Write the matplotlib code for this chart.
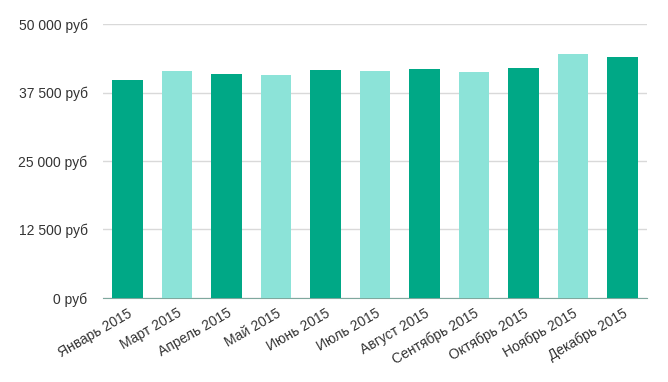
import matplotlib.pyplot as plt
from matplotlib.ticker import FuncFormatter

plt.rcParams['font.family'] = ['Liberation Sans', 'DejaVu Sans']

# месяцы и суммы
months = ["Январь 2015", "Март 2015", "Апрель 2015", "Май 2015", "Июнь 2015",
          "Июль 2015", "Август 2015", "Сентябрь 2015", "Октябрь 2015",
          "Ноябрь 2015", "Декабрь 2015"]
values = [39860, 41500, 40950, 40770, 41680, 41500, 41860, 41320, 42050, 44590, 44050]
yticks = [0, 12500, 25000, 37500, 50000]

dark = "#00a886"
light = "#8ce3d8"
colors = [dark if i % 2 == 0 else light for i in range(len(months))]

fig = plt.figure(figsize=(6.68, 3.82), dpi=100)
ax = fig.add_axes([0.154, 0.22, 0.815, 0.717])

ax.bar(range(len(months)), values, width=0.62, color=colors, zorder=3)

ax.set_xlim(-0.5, len(months) - 0.5)
ax.set_ylim(0, 50000)
ax.set_yticks(yticks)
ax.yaxis.set_major_formatter(FuncFormatter(lambda v, p: f"{int(v):,} руб".replace(",", " ")))
ax.grid(axis="y", color="#d9d9d9", linewidth=1, zorder=0)

ax.set_xticks(range(len(months)))
ax.set_xticklabels(months, rotation=30, ha="right", rotation_mode="anchor")

for s in ["top", "right", "left"]:
    ax.spines[s].set_visible(False)
ax.spines["bottom"].set_color("#7fa89e")
ax.tick_params(length=0, labelsize=10, colors="#333333")
ax.tick_params(axis="y", pad=11)
ax.tick_params(axis="x", pad=6)

fig.savefig("out.png")
